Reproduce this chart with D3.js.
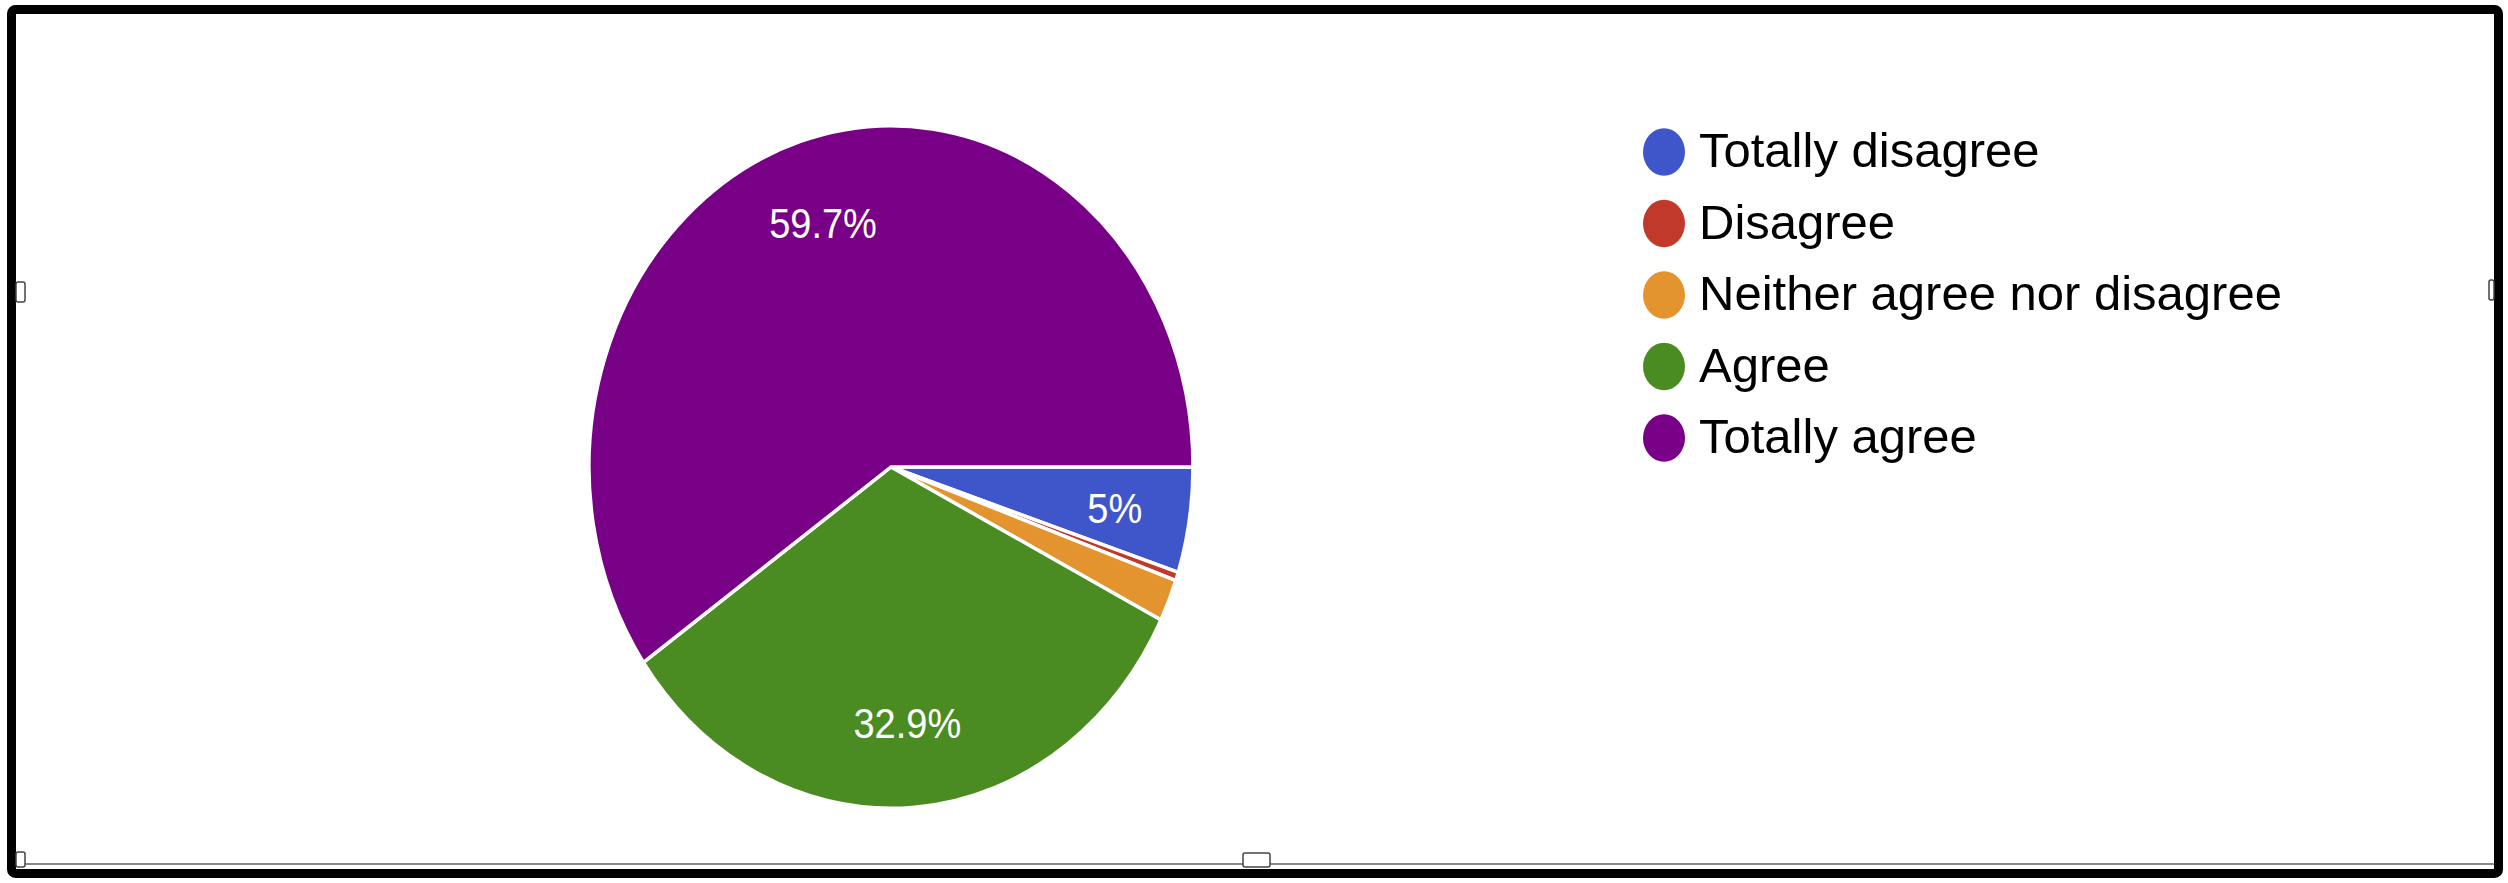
<!DOCTYPE html>
<html>
<head>
<meta charset="utf-8">
<script src="https://cdn.jsdelivr.net/npm/d3@7"></script>
<style>
	html, body { margin: 0; padding: 0; background: #fff; }
	svg { display: block; font-family: "Liberation Sans", Arial, sans-serif; }
</style>
</head>
<body>
<div id="chart"></div>
<script>
// answers and their shares (percent)
const categories = ["Totally disagree", "Disagree", "Neither agree nor disagree", "Agree", "Totally agree"];
const shares     = [5.0, 0.4, 2.0, 32.9, 59.7];
const labels     = ["5%", "", "", "32.9%", "59.7%"];
const colors     = ["#3f56cb", "#c0392b", "#e3942f", "#4a8c22", "#770086"];

function main() {

	// page size
	const SVG_WIDTH  = 2508;
	const SVG_HEIGHT = 883;

	// the pie is stretched a bit vertically
	const stretch = 1.13;

	// pie placement
	var cx = 891, cy = 467, radius = 302;

	var svg = d3.select("#chart")
		.append("svg")
		.attr("width", SVG_WIDTH)
		.attr("height", SVG_HEIGHT);

	// frame round the chart
	svg.append("line")
		.attr("x1", 25).attr("x2", 2494)
		.attr("y1", 864).attr("y2", 864)
		.attr("stroke", "#888")
		.attr("stroke-width", 2);

	svg.append("rect")
		.attr("x", 11.5).attr("y", 9.5)
		.attr("width", 2487).attr("height", 864)
		.attr("rx", 4)
		.attr("fill", "none")
		.attr("stroke", "#000")
		.attr("stroke-width", 9);

	// small selection handles left over on the frame
	var handles = [[16, 282, 9, 20], [16, 852, 9, 15], [1243, 853, 27, 14], [2489, 280, 5, 20]];
	svg.selectAll(".handle")
		.data(handles)
		.enter()
		.append("rect")
		.attr("class", "handle")
		.attr("x", d => d[0]).attr("y", d => d[1])
		.attr("width", d => d[2]).attr("height", d => d[3])
		.attr("rx", 2)
		.attr("fill", "#fff")
		.attr("stroke", "#444")
		.attr("stroke-width", 1.5);

	// pie, starting at 3 o'clock and going clockwise
	var pie = d3.pie()
		.sort(null)
		.value(d => d)
		.startAngle(Math.PI / 2)
		.endAngle(Math.PI / 2 + 2 * Math.PI);

	var arcs = pie(shares);

	var arc = d3.arc()
		.innerRadius(0)
		.outerRadius(radius);

	var labelArc = d3.arc()
		.innerRadius(radius * 0.75)
		.outerRadius(radius * 0.75);

	var pieG = svg.append("g")
		.attr("transform", "translate(" + cx + "," + cy + ") scale(1," + stretch + ")");

	pieG.selectAll(".slice")
		.data(arcs)
		.enter()
		.append("path")
		.attr("class", "slice")
		.attr("d", arc)
		.attr("fill", (d, i) => colors[i])
		.attr("stroke", "#fff")
		.attr("stroke-width", 3.5)
		.attr("vector-effect", "non-scaling-stroke");

	// percent labels inside the big slices
	svg.selectAll(".pct")
		.data(arcs.filter((d, i) => labels[i] !== ""))
		.enter()
		.append("text")
		.attr("class", "pct")
		.attr("transform", function(d) {
			var c = labelArc.centroid(d);
			return "translate(" + (cx + c[0]) + "," + (cy + c[1] * stretch) + ") scale(1," + stretch + ")";
		})
		.attr("text-anchor", "middle")
		.attr("dy", "0.36em")
		.attr("fill", "#fff")
		.style("font-size", "38px")
		.text(d => labels[d.index]);

	// legend
	var rowY = d3.scalePoint()
		.domain(categories)
		.range([152, 438]);

	var legend = svg.selectAll(".legend")
		.data(categories)
		.enter()
		.append("g")
		.attr("class", "legend")
		.attr("transform", d => "translate(1664," + rowY(d) + ")");

	legend.append("ellipse")
		.attr("rx", 21)
		.attr("ry", 21 * stretch)
		.attr("fill", (d, i) => colors[i]);

	legend.append("text")
		.attr("x", 35)
		.attr("y", 15)
		.attr("fill", "#000")
		.style("font-size", "49px")
		.text(d => d);
}

function whenDocumentLoaded(action) {
	if (document.readyState === "loading") {
		document.addEventListener("DOMContentLoaded", action);
	} else {
		action();
	}
}

whenDocumentLoaded(() => {
	main();
});
</script>
</body>
</html>
